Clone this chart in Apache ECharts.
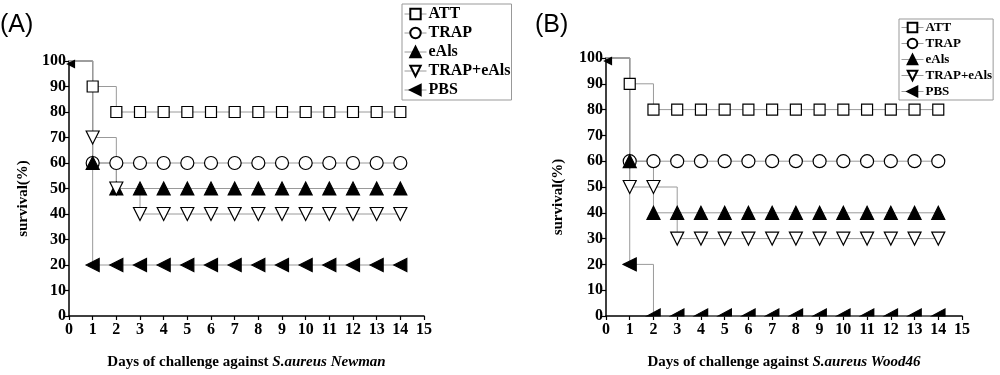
<!DOCTYPE html>
<html>
<head>
<meta charset="utf-8">
<script src="https://cdn.jsdelivr.net/npm/echarts@6/dist/echarts.min.js"></script>
<style>html,body{margin:0;padding:0;background:#fff}#c{width:1000px;height:375px}</style>
</head>
<body>
<div id="c"></div>
<script>
// ---- data ----
const days = [0,1,2,3,4,5,6,7,8,9,10,11,12,13,14];
const xTicks = [0,1,2,3,4,5,6,7,8,9,10,11,12,13,14,15];
const yTicks = [0,10,20,30,40,50,60,70,80,90,100];
const groups = ['ATT','TRAP','eAls','TRAP+eAls','PBS'];

const newmanATT      = [100,90,80,80,80,80,80,80,80,80,80,80,80,80,80];
const newmanTRAP     = [100,60,60,60,60,60,60,60,60,60,60,60,60,60,60];
const newmanEAls     = [100,60,50,50,50,50,50,50,50,50,50,50,50,50,50];
const newmanTRAPEAls = [100,70,50,40,40,40,40,40,40,40,40,40,40,40,40];
const newmanPBS      = [100,20,20,20,20,20,20,20,20,20,20,20,20,20,20];

const woodATT      = [100,90,80,80,80,80,80,80,80,80,80,80,80,80,80];
const woodTRAP     = [100,60,60,60,60,60,60,60,60,60,60,60,60,60,60];
const woodEAls     = [100,60,40,40,40,40,40,40,40,40,40,40,40,40,40];
const woodTRAPEAls = [100,50,50,30,30,30,30,30,30,30,30,30,30,30,30];
const woodPBS      = [100,20,0,0,0,0,0,0,0,0,0,0,0,0,0];

// ---- styles ----
const SERIF = "'Liberation Serif','Times New Roman',serif";
const styles = {
  'ATT':       {symbol:'rect',     size:11, rot:0,   fill:'#fff'},
  'TRAP':      {symbol:'circle',   size:13, rot:0,   fill:'#fff'},
  'eAls':      {symbol:'triangle', size:13, rot:0,   fill:'#000'},
  'TRAP+eAls': {symbol:'triangle', size:13, rot:180, fill:'#fff'},
  'PBS':       {symbol:'triangle', size:13, rot:90,  fill:'#000'}
};
const halfLeftTri = 'path://M0,10 L20,0 L20,10 Z';

function makeSeries(name, values, idx) {
  const st = styles[name];
  const data = days.map((d, i) => {
    const item = {value: [d, values[i]]};
    if (i === 0) {
      item.symbolSize = name === 'PBS' ? 7 : 0;
      if (name === 'PBS') item.symbolOffset = [2, 3];
    } else if (name === 'PBS' && values[i] === 0) {
      item.symbol = halfLeftTri;
      item.symbolRotate = 0;
      item.symbolSize = [13, 7];
      item.symbolOffset = [0, -3.5];
    }
    return item;
  });
  return {
    type: 'line', name: name, xAxisIndex: idx, yAxisIndex: idx,
    step: 'end', data: data, symbol: st.symbol, symbolSize: st.size,
    symbolRotate: st.rot, showAllSymbol: true, clip: false,
    lineStyle: {color: '#9a9a9a', width: 1},
    itemStyle: {color: st.fill, borderColor: '#000', borderWidth: 1.2},
    emphasis: {disabled: true}, animation: false
  };
}

const grids = [
  {left: 69, top: 61, width: 355, height: 260},
  {left: 606, top: 58, width: 356, height: 263}
];

function xAxis(idx, strain) {
  return {
    type: 'value', gridIndex: idx, min: 0, max: 15, interval: 1,
    axisLine: {lineStyle: {color: '#000', width: 1.5}},
    axisTick: {length: 4, lineStyle: {color: '#000', width: 1.2}},
    axisLabel: {margin: 6, color: '#000', fontFamily: SERIF, fontWeight: 'bold', fontSize: 16,
      formatter: v => String(xTicks[v])},
    splitLine: {show: false},
    name: '{b|Days of challenge against }{i|' + strain + '}',
    nameLocation: 'middle', nameGap: 39,
    nameTextStyle: {rich: {
      b: {fontFamily: SERIF, fontWeight: 'bold', fontSize: 15, color: '#000'},
      i: {fontFamily: SERIF, fontWeight: 'bold', fontStyle: 'italic', fontSize: 15, color: '#000'}
    }}
  };
}
function yAxis(idx, gap) {
  return {
    type: 'value', gridIndex: idx, min: 0, max: 100, interval: 10,
    axisLine: {show: true, lineStyle: {color: '#000', width: 1.5}},
    axisTick: {show: true, length: 4, lineStyle: {color: '#000', width: 1.2}},
    axisLabel: {margin: 3, color: '#000', fontFamily: SERIF, fontWeight: 'bold', fontSize: 16,
      formatter: v => String(yTicks[v / 10])},
    splitLine: {show: false},
    name: 'survival(%)', nameLocation: 'middle', nameGap: gap, nameRotate: 90,
    nameTextStyle: {fontFamily: SERIF, fontWeight: 'bold', fontSize: 15, color: '#000', padding: [0, 20, 0, 0]}
  };
}

function legend(left, top, fs, gap, ih, iw) {
  return {
    data: groups, left: left, top: top, orient: 'vertical',
    itemWidth: iw, itemHeight: ih, itemGap: gap,
    padding: [2, 1, 2, 2], borderColor: '#999', borderWidth: 1,
    lineStyle: {color: '#9a9a9a', width: 1},
    textStyle: {fontFamily: SERIF, fontWeight: 'bold', fontSize: fs, color: '#000', padding: [0, 0, 0, -3]},
    selectedMode: false
  };
}

const series = [
  makeSeries('ATT', newmanATT, 0),
  makeSeries('TRAP', newmanTRAP, 0),
  makeSeries('eAls', newmanEAls, 0),
  makeSeries('TRAP+eAls', newmanTRAPEAls, 0),
  makeSeries('PBS', newmanPBS, 0),
  makeSeries('ATT', woodATT, 1),
  makeSeries('TRAP', woodTRAP, 1),
  makeSeries('eAls', woodEAls, 1),
  makeSeries('TRAP+eAls', woodTRAPEAls, 1),
  makeSeries('PBS', woodPBS, 1)
];

const chart = echarts.init(document.getElementById('c'), null, {renderer: 'canvas'});
chart.setOption({
  animation: false,
  backgroundColor: '#fff',
  grid: grids,
  xAxis: [xAxis(0, 'S.aureus Newman'), xAxis(1, 'S.aureus Wood46')],
  yAxis: [yAxis(0, 38), yAxis(1, 40)],
  legend: [legend(402, 4, 16, 3, 13, 22), legend(899, 19, 13, 3, 12, 22)],
  graphic: [
    {type: 'text', left: 0, top: 13, style: {text: '(A)', font: '25px "Liberation Sans", Arial, sans-serif', fill: '#000'}},
    {type: 'text', left: 535, top: 13, style: {text: '(B)', font: '25px "Liberation Sans", Arial, sans-serif', fill: '#000'}}
  ],
  series: series
});
</script>
</body>
</html>
